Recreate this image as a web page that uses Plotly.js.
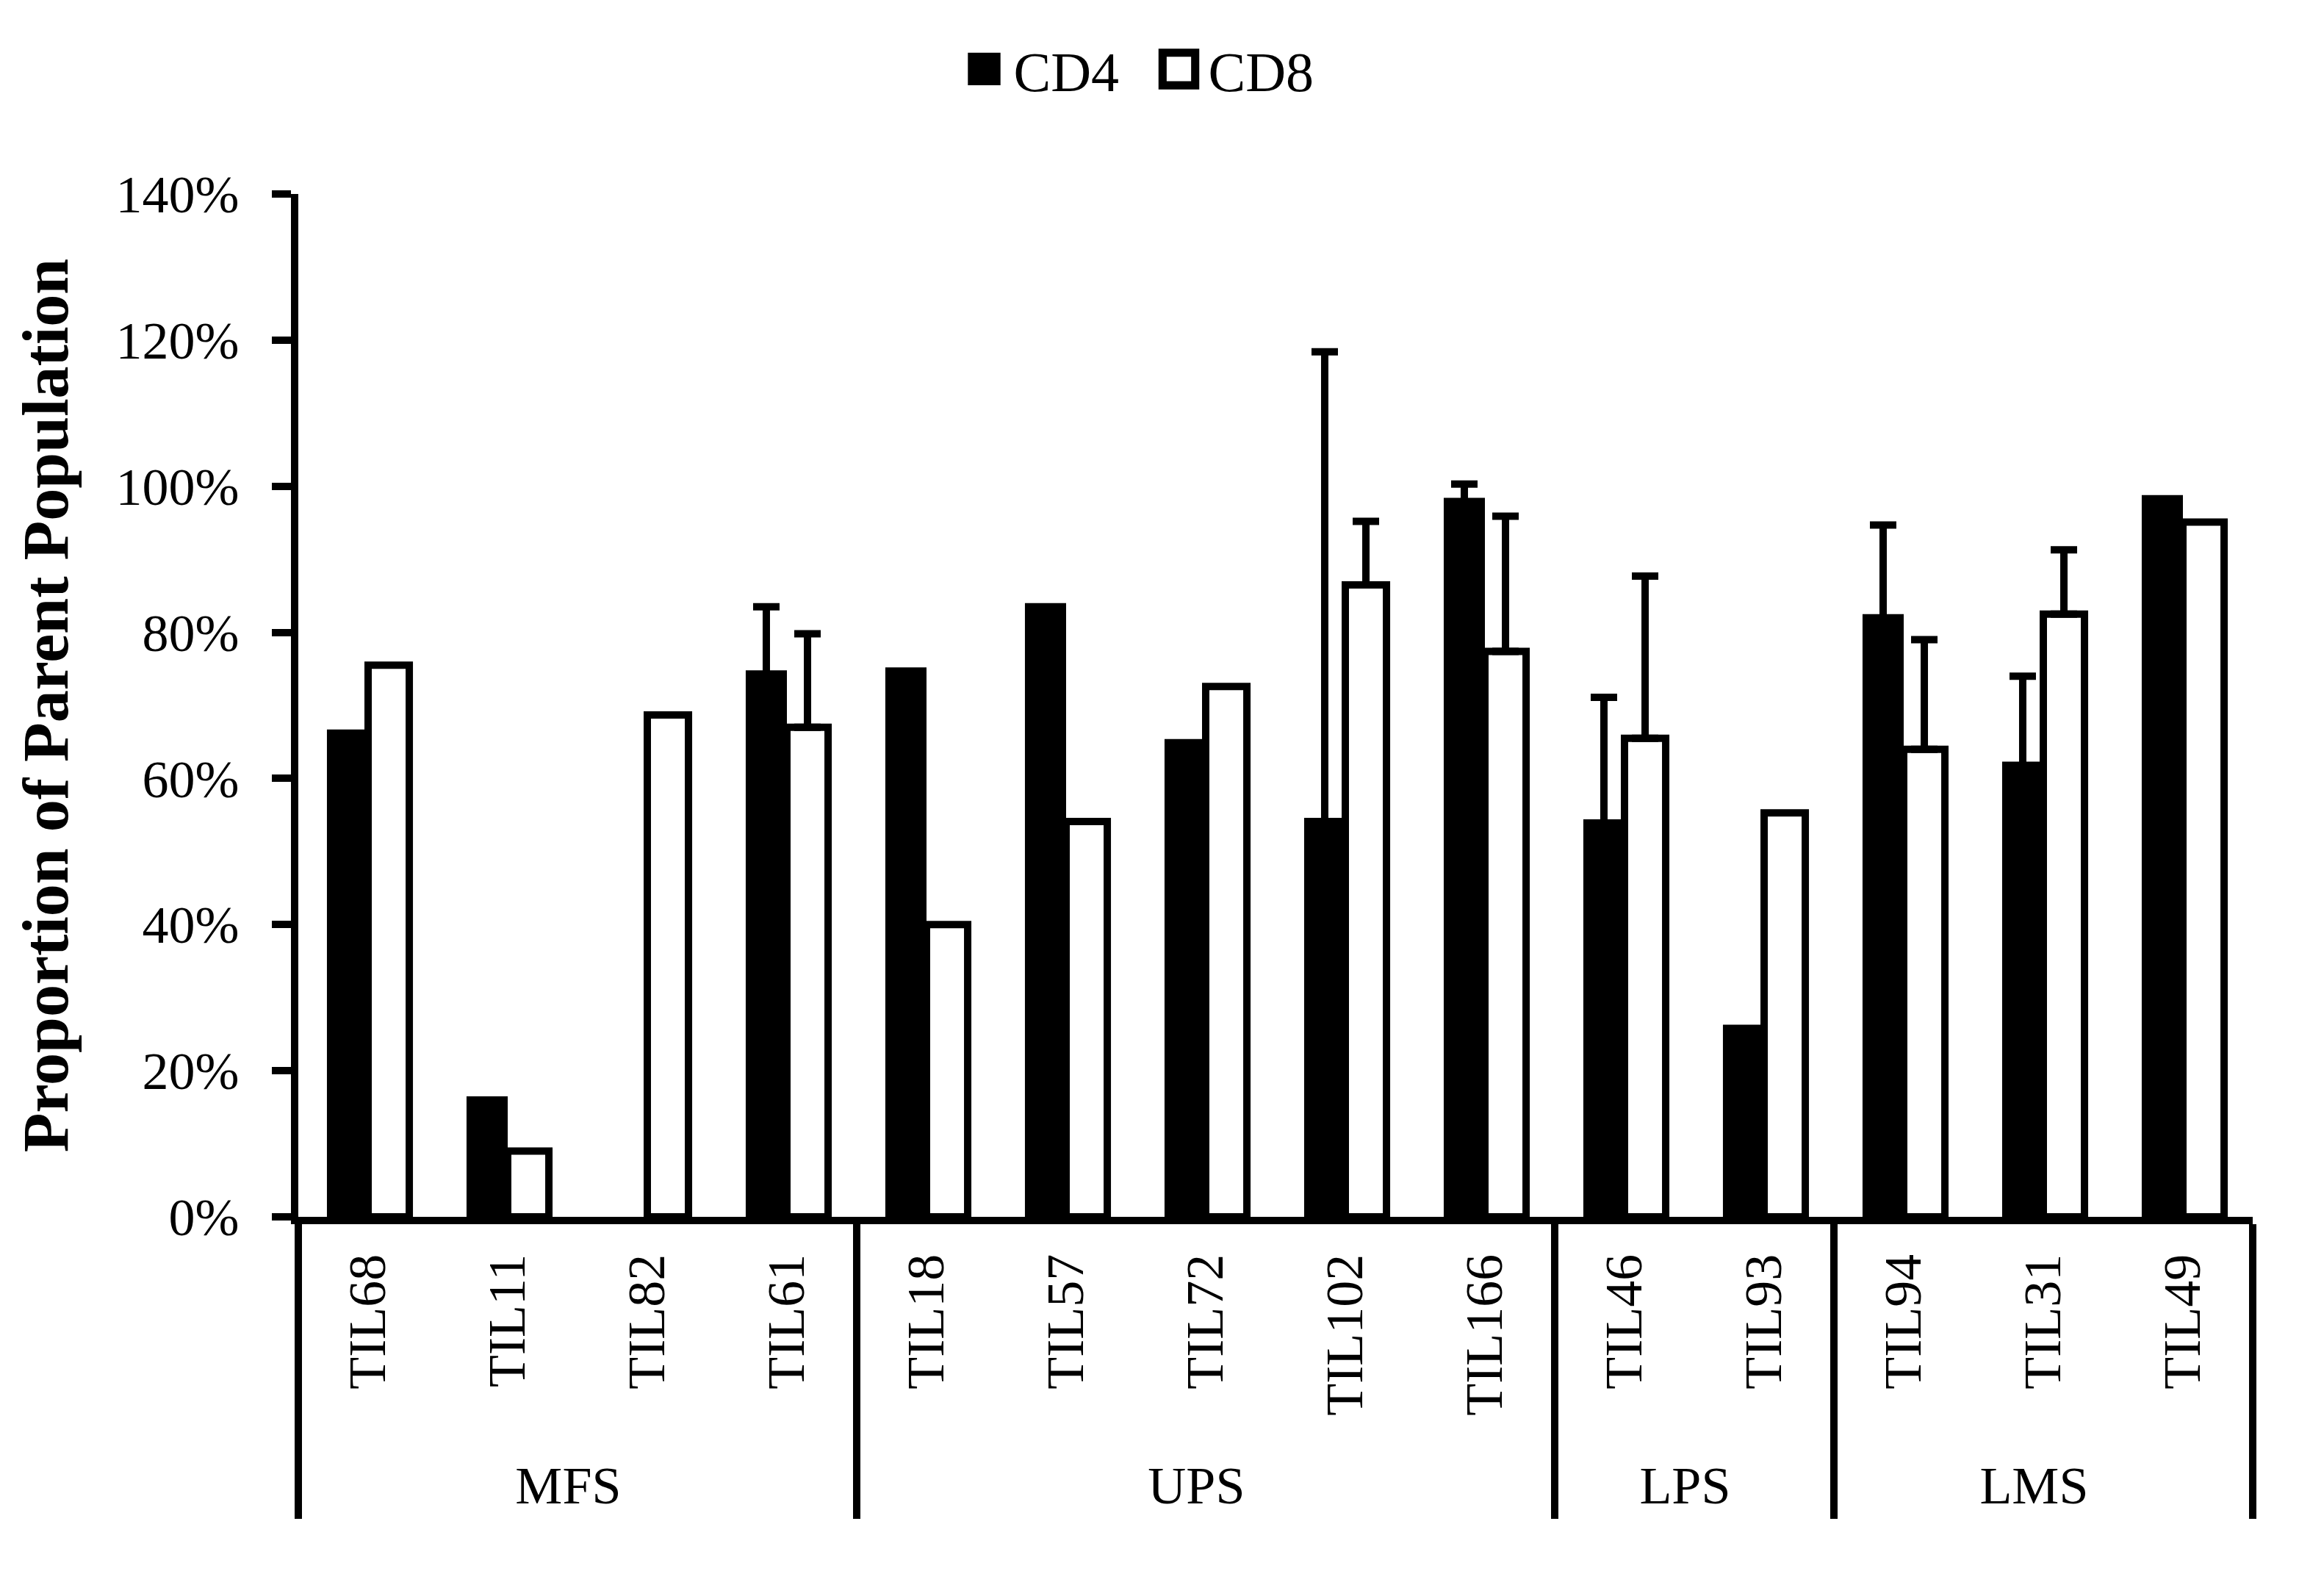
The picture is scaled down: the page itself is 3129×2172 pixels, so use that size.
<!DOCTYPE html>
<html><head><meta charset="utf-8">
<script src="https://cdn.plot.ly/plotly-3.0.1.min.js"></script>
<style>html,body{margin:0;padding:0;background:#fff;} #chart{width:3129px;height:2172px;}</style>
</head><body><div id="chart"></div>
<script>
const groups  = ['MFS','MFS','MFS','MFS','UPS','UPS','UPS','UPS','UPS','LPS','LPS','LMS','LMS','LMS'];
const samples = ['TIL68','TIL11','TIL82','TIL61','TIL18','TIL57','TIL72','TIL102','TIL166','TIL46','TIL93','TIL94','TIL31','TIL49'];
const cd4     = [66.7, 16.5, 0, 74.8, 75.2, 84.0, 65.4, 54.6, 98.4, 54.4, 26.3, 82.5, 62.3, 98.8];
const cd8     = [75.5, 9.0, 68.7, 67.0, 40.0, 54.1, 72.6, 86.5, 77.4, 65.5, 55.3, 64.0, 82.5, 95.1];
const cd4Err  = [null, null, null, 8.7, null, null, null, 63.8, 1.9, 16.7, null, 12.2, 11.7, null];
const cd8Err  = [null, null, null, 12.8, null, null, null, 8.7, 18.5, 22.2, null, 15.0, 8.8, null];
const yTickVals = [0, 20, 40, 60, 80, 100, 120, 140];
const yTickText = ['0%', '20%', '40%', '60%', '80%', '100%', '120%', '140%'];
const seriesNames = ['CD4', 'CD8'];

const F = "'Palatino Linotype', 'Book Antiqua', Palatino, 'Liberation Serif', serif";
// no error bar where the value is missing
const plusOf  = arr => arr.map(v => v === null ? NaN : v);
const minusOf = arr => arr.map(v => v === null ? NaN : 0);

const traces = [
  {
    type: 'bar', name: seriesNames[0], x: [groups, samples], y: cd4,
    marker: {color: '#000', line: {color: '#000', width: 0}},
    // symmetric: the lower half is hidden inside the black bar
    error_y: {type: 'data', symmetric: true, array: plusOf(cd4Err), color: '#000', thickness: 10, width: 18},
    hoverinfo: 'y'
  },
  {
    type: 'bar', name: seriesNames[1], x: [groups, samples], y: cd8,
    marker: {color: '#fff', line: {color: '#000', width: 10}},
    error_y: {type: 'data', symmetric: false, array: plusOf(cd8Err), arrayminus: minusOf(cd8Err), color: '#000', thickness: 10, width: 18},
    hoverinfo: 'y'
  }
];

const layout = {
  width: 3129, height: 2172,
  margin: {l: 406, r: 63, t: 264, b: 516},
  paper_bgcolor: '#fff', plot_bgcolor: '#fff',
  barmode: 'group', bargap: 0.41, bargroupgap: 0,
  font: {family: F, color: '#000', size: 72},
  showlegend: true,
  legend: {orientation: 'h', x: 0.5, xref: 'container', xanchor: 'center',
           y: 1 - 94 / 2172, yref: 'container', yanchor: 'middle',
           font: {size: 76, family: F, color: '#000'}, itemwidth: 70,
           entrywidth: 180, entrywidthmode: 'pixels', traceorder: 'normal'},
  xaxis: {type: 'multicategory', showline: true, linecolor: '#000', linewidth: 10,
          ticks: '', tickangle: -90, showdividers: true, dividercolor: '#000', dividerwidth: 10,
          ticklabelstandoff: 12,
          tickfont: {size: 72, family: F, color: '#000'}, showgrid: false, zeroline: false},
  yaxis: {range: [0, 140], tickvals: yTickVals, ticktext: yTickText, ticks: 'outside', ticklen: 26,
          tickwidth: 10, tickcolor: '#000', showline: true, linewidth: 10, linecolor: '#000',
          showgrid: false, zeroline: false, ticklabelstandoff: 30,
          tickfont: {size: 72, family: F, color: '#000'},
          title: {text: 'Proportion of Parent Population', standoff: 40,
                  font: {size: 88, family: F, color: '#000', weight: 'bold'}}}
};

Plotly.newPlot('chart', traces, layout, {staticPlot: true}).then(gd => {
  gd.querySelectorAll('.legend .legendpoints path').forEach(p => {
    const t = p.getAttribute('transform') || '';
    p.setAttribute('transform', t + ' scale(3.7)');
    p.style.strokeWidth = '3px';
  });
});
</script>
</body></html>
